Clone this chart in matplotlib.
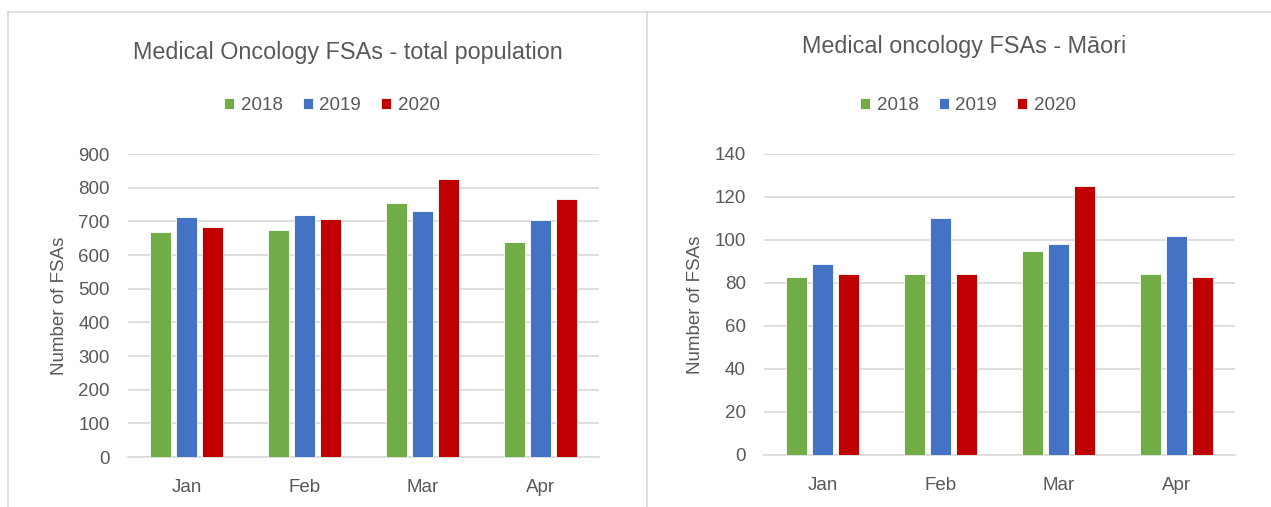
import numpy as np
import matplotlib
matplotlib.use("Agg")
import matplotlib.pyplot as plt
from matplotlib.lines import Line2D

plt.rcParams.update({
    "font.family": ["Liberation Sans", "DejaVu Sans"],
    "font.size": 13.5,
    "text.color": "#595959",
    "axes.labelcolor": "#595959",
    "xtick.color": "#595959",
    "ytick.color": "#595959",
})

months = ["Jan", "Feb", "Mar", "Apr"]
years = ["2018", "2019", "2020"]
colors = ["#70AD47", "#4472C4", "#C00000"]

total_2018 = [669, 673, 754, 638]
total_2019 = [713, 719, 731, 703]
total_2020 = [683, 706, 825, 766]

maori_2018 = [83, 84, 95, 84]
maori_2019 = [89, 110, 98, 102]
maori_2020 = [84, 84, 125, 83]

GRID = "#D9D9D9"


def panel(ax, series, ymax, ystep, title, tx, ty):
    x = np.arange(len(months))
    w, step = 0.178, 0.22
    for i, (vals, c, lab) in enumerate(zip(series, colors, years)):
        ax.bar(x + (i - 1) * step, vals, w, color=c, edgecolor="white",
               linewidth=0.6, label=lab, zorder=3)
    ax.set_xlim(-0.5, len(months) - 0.5)
    ax.set_ylim(0, ymax)
    ax.set_yticks(np.arange(0, ymax + 1, ystep))
    ax.set_xticks(x)
    ax.set_xticklabels(months)
    ax.grid(axis="y", color=GRID, linewidth=1.2, zorder=0)
    for s in ["top", "right", "left"]:
        ax.spines[s].set_visible(False)
    ax.spines["bottom"].set_color(GRID)
    ax.spines["bottom"].set_linewidth(1.2)
    ax.tick_params(axis="x", length=0, pad=16)
    ax.tick_params(axis="y", length=0, pad=13)
    ax.set_ylabel("Number of FSAs")
    ax.yaxis.set_label_coords(-0.128, 0.5)
    fig.text(tx, ty, title, ha="center", va="center", fontsize=16.8)
    ax.legend(loc="center", bbox_to_anchor=(0.433, 1.16), ncol=3, frameon=False,
              handlelength=0.55, handleheight=0.55, handletextpad=0.35,
              columnspacing=1.05, fontsize=13.5)


fig = plt.figure(figsize=(12.71, 5.07), dpi=100)
axL = fig.add_axes([0.1007, 0.0986, 0.3706, 0.5976])
axR = fig.add_axes([0.6011, 0.1026, 0.3706, 0.5937])

panel(axL, [total_2018, total_2019, total_2020], 900, 100,
      "Medical Oncology FSAs - total population", 348 / 1271, 1 - 53 / 507)
panel(axR, [maori_2018, maori_2019, maori_2020], 140, 20,
      "Medical oncology FSAs - M\u0101ori", 964 / 1271, 1 - 47 / 507)

# outer frame / separator like the spreadsheet chart borders
fc = "#D9D9D9"
fig.add_artist(Line2D([8 / 1271, 1], [1 - 12 / 507] * 2, color=fc, lw=1.2))
fig.add_artist(Line2D([8 / 1271] * 2, [0, 1 - 12 / 507], color=fc, lw=1.2))
fig.add_artist(Line2D([647 / 1271] * 2, [0, 1 - 12 / 507], color=fc, lw=1.2))

fig.savefig("out.png", dpi=100)
